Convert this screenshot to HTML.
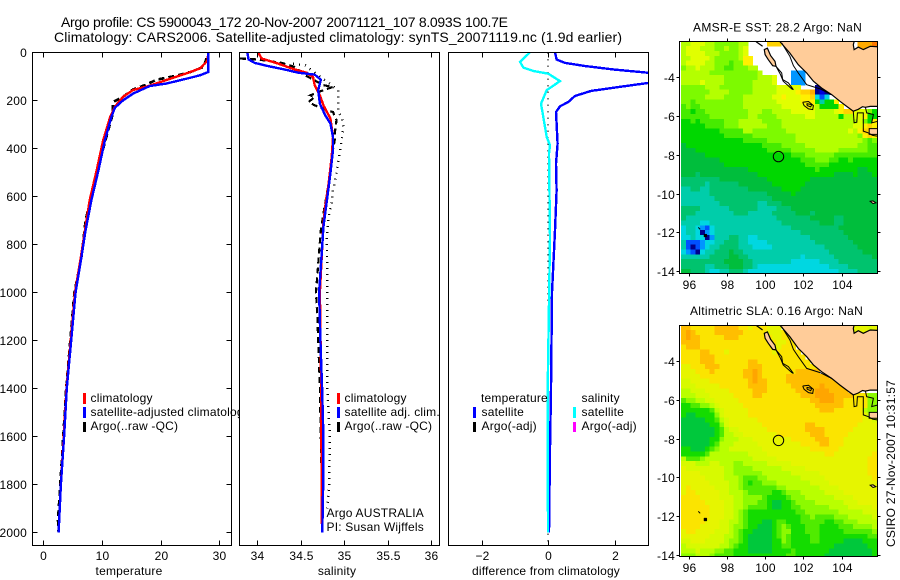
<!DOCTYPE html>
<html>
<head>
<meta charset="utf-8">
<title>Argo profile</title>
<style>
html,body{margin:0;padding:0;background:#fff;}
svg{display:block;}
text{font-family:"Liberation Sans",sans-serif;font-size:12px;fill:#000;letter-spacing:.2px;}
.t{font-size:14px;letter-spacing:0;}
</style>
</head>
<body>
<svg id="fig" xmlns="http://www.w3.org/2000/svg" width="900" height="580" viewBox="0 0 900 580">
<defs>
<clipPath id="c1"><rect x="32" y="52" width="200" height="494"/></clipPath>
<clipPath id="c2"><rect x="239" y="52" width="201" height="494"/></clipPath>
<clipPath id="c3"><rect x="448" y="52" width="201" height="494"/></clipPath>
<clipPath id="cm1"><rect x="680" y="42" width="198" height="231"/></clipPath>
<clipPath id="cm2"><rect x="680" y="326" width="198" height="230"/></clipPath>
</defs>
<rect x="0" y="0" width="900" height="580" fill="#fff"/>
<text class="t" x="61" y="27" textLength="447">Argo profile: CS 5900043_172 20-Nov-2007 20071121_107 8.093S 100.7E</text>
<text class="t" x="54" y="42" textLength="568">Climatology: CARS2006. Satellite-adjusted climatology: synTS_20071119.nc (1.9d earlier)</text>

<g id="panel1">
<rect x="32.5" y="52.5" width="199" height="493" fill="#fff"/>
<g id="p1marks" clip-path="url(#c1)"></g>
<rect x="32.5" y="52.5" width="199" height="493" fill="none" stroke="#000"/>
<g id="p1axis"></g>
<text x="129" y="575" text-anchor="middle">temperature</text>
<g>
<rect x="83" y="393" width="3" height="11" fill="#f00"/>
<rect x="83" y="407" width="3" height="11" fill="#00f"/>
<rect x="83" y="422" width="3" height="10" fill="#000"/>
<text x="90.5" y="402">climatology</text>
<text x="90.5" y="416">satellite-adjusted climatology</text>
<text x="90.5" y="430">Argo(..raw -QC)</text>
</g>
</g>

<g id="panel2">
<rect x="239.5" y="52.5" width="200" height="493" fill="#fff"/>
<g id="p2marks" clip-path="url(#c2)"></g>
<rect x="239.5" y="52.5" width="200" height="493" fill="none" stroke="#000"/>
<g id="p2axis"></g>
<text x="337" y="575" text-anchor="middle">salinity</text>
<g>
<rect x="337" y="393" width="3" height="11" fill="#f00"/>
<rect x="337" y="407" width="3" height="11" fill="#00f"/>
<rect x="337" y="422" width="3" height="10" fill="#000"/>
<text x="344.5" y="402">climatology</text>
<text x="344.5" y="416">satellite adj. clim.</text>
<text x="344.5" y="430">Argo(..raw -QC)</text>
<text x="326.5" y="517">Argo AUSTRALIA</text>
<text x="326.5" y="531">PI: Susan Wijffels</text>
</g>
</g>

<g id="panel3">
<rect x="448.5" y="52.5" width="200" height="493" fill="#fff"/>
<g id="p3marks" clip-path="url(#c3)"></g>
<rect x="448.5" y="52.5" width="200" height="493" fill="none" stroke="#000"/>
<g id="p3axis"></g>
<text x="546" y="575" text-anchor="middle" textLength="148">difference from climatology</text>
<g>
<rect x="473" y="407" width="3" height="11" fill="#00f"/>
<rect x="473" y="422" width="3" height="10" fill="#000"/>
<rect x="573" y="407" width="3" height="11" fill="#0ff"/>
<rect x="573" y="422" width="3" height="10" fill="#f0f"/>
<text x="481" y="402">temperature</text>
<text x="481.5" y="416">satellite</text>
<text x="481.5" y="430">Argo(-adj)</text>
<text x="581.5" y="402">salinity</text>
<text x="581.5" y="416">satellite</text>
<text x="581.5" y="430">Argo(-adj)</text>
</g>
</g>

<g id="map1">
<text x="777.5" y="31.5" text-anchor="middle" textLength="169">AMSR-E SST: 28.2 Argo: NaN</text>
<g id="m1cells" clip-path="url(#cm1)"></g>
<g id="m1coast" clip-path="url(#cm1)"></g>
<rect x="679.5" y="41.5" width="198" height="232" fill="none" stroke="#000"/>
<g id="m1axis"></g>
</g>

<g id="map2">
<text x="776.5" y="315" text-anchor="middle" textLength="173">Altimetric SLA: 0.16 Argo: NaN</text>
<g id="m2cells" clip-path="url(#cm2)"></g>
<g id="m2coast" clip-path="url(#cm2)"></g>
<rect x="679.5" y="325.5" width="198" height="231" fill="none" stroke="#000"/>
<g id="m2axis"></g>
</g>

<text transform="translate(895 547) rotate(-90)" textLength="167">CSIRO 27-Nov-2007 10:31:57</text>
</svg>

<script>
// Panel tick values
const depthTicks = [0,200,400,600,800,1000,1200,1400,1600,1800,2000];
const tempTicks = [0,10,20,30];
const salTicks = [34,34.5,35,35.5,36];
const salTickLabels = ['34','34.5','35','35.5','36'];
const diffTicks = [-2,0,2];
const diffTickLabels = ['\u22122','0','2'];
const lonTicks = [96,98,100,102,104];
const latTicks = [-4,-6,-8,-10,-12,-14];
const latTickLabels = ['-4','-6','-8','-10','-12','-14'];

// Temperature profiles
const tempClimDepth = [0,33,39,67,88,115,143,157,185,227,269,366,491,616,741,852,1000,1400,1600,1800,2000];
const tempClimValue = [28.1,28.0,27.8,26.7,24.4,21,17.6,15.3,13.6,12.2,11.4,10.2,9.1,7.9,7.1,6.4,5.4,3.95,3.5,3.0,2.6];
const tempSatDepth = [0,82,96,110,130,141,172,200,231,269,366,491,616,741,852,1000,1400,1600,1800,2000];
const tempSatValue = [28.1,28.1,26.7,24.4,21,18.1,15.3,13.6,12.2,11.6,10.5,9.4,8.2,7.2,6.5,5.5,4.0,3.55,3.0,2.6];
const tempArgoDepth = [25,61,82,100,114,135,155,185,207,260,366,491,616,700,852,1000,1400,1600,1800,1950,2000];
const tempArgoValue = [27.8,27.3,25.1,22.2,19.3,17.5,15.3,13.6,11.9,11.8,10.6,9.2,8.0,7.2,6.5,5.3,3.9,3.4,2.9,2.5,2.6];

// Salinity profiles
const salClimDepth = [0,26,47,68,86,103,137,179,221,276,353,436,547,644,714,1000,1400,1900,2000];
const salClimValue = [34.01,34.05,34.24,34.4,34.57,34.64,34.66,34.72,34.76,34.84,34.87,34.855,34.82,34.78,34.76,34.72,34.735,34.74,34.745];
const salSatDepth = [0,30,44,58,72,85,93,114,130,158,214,262,297,353,408,505,617,728,783,1000,1200,1400,1600,1750,2000];
const salSatValue = [33.885,33.9,33.97,34.13,34.32,34.47,34.66,34.73,34.72,34.7,34.72,34.78,34.84,34.87,34.87,34.84,34.8,34.76,34.75,34.71,34.725,34.745,34.76,34.76,34.747];
const salArgoDepth = [26,30,44,61,96,117,137,144,158,179,186,207,221,236,249,283,339,367,436,505,589,672,742,1000,1100,1300,1400,1600,1800,1900];
const salArgoValue = [33.8,34.01,34.28,34.43,34.55,34.66,34.76,34.87,34.76,34.61,34.66,34.59,34.66,34.76,34.87,34.91,34.89,34.89,34.855,34.835,34.8,34.76,34.73,34.675,34.69,34.71,34.72,34.73,34.74,34.74];
const salRawDepth = [47,54,158,249,269,311,367,408,457,505,575,630,686,770,1000,1400,1600,1800,1900];
const salRawValue = [34.41,34.55,34.93,34.93,34.97,34.99,34.97,34.95,34.93,34.91,34.87,34.855,34.82,34.8,34.805,34.805,34.835,34.825,34.805];

// Differences from climatology
const diffTempDepth = [0,30,44,57,72,85,105,128,147,161,182,207,225,249,297,381,464,575,742,1000,1400,1650,2000];
const diffTempValue = [0.21,0.26,0.51,1.11,2.0,3.0,5.5,3.0,2.0,1.3,0.81,0.61,0.36,0.24,0.26,0.29,0.24,0.26,0.21,0.12,0.09,0.06,0.03];
const diffSalDepth = [0,40,64,78,89,120,158,214,269,353,387,422,770,1400,2000];
const diffSalValue = [-0.54,-0.84,-0.74,-0.44,0.01,0.36,-0.04,-0.21,-0.14,-0.04,0.06,0.03,0.06,-0.01,0];
const diffZeroDepth = [0,2040];
const diffZeroValue = [0,0];

// Colour levels for the heatmaps (level index -> colour); -1 = missing
const sstColours = ['#00008c','#0000dc','#0050ff','#0096ff','#00d7e1','#00cdaa','#00c36e','#00be3c','#00d700','#46eb00','#7dfa00','#b4ff00','#e1ff00','#fff000','#ffd200','#ffaa00','#ff7800','#e63c00','#aa2800'];
const slaColours = ['#00008c','#0000dc','#0050ff','#0096ff','#00d7e1','#00cdaa','#00c36e','#00c83c','#14dc00','#50eb00','#8cfa00','#b9ff00','#d7fa00','#e6f500','#fbe400','#ffbe00','#ffa500','#e63c00','#aa2800'];

// AMSR-E SST, colour level per 0.25 degree cell, north to south
const sstRows = [
[11,11,12,12,12,11,11,10,10,10,10,10,11,11,-1,-1,-1,-1,14,14,14,-1,-1,-1,-1,-1,-1,-1,-1,-1,-1,-1,-1,-1,-1,-1,-1,15,15,15,16,18],
[11,12,12,12,11,11,11,10,10,11,10,10,11,12,-1,-1,-1,-1,-1,-1,-1,-1,-1,-1,-1,-1,-1,-1,-1,-1,-1,-1,-1,-1,-1,-1,-1,15,15,15,17,18],
[11,12,12,12,12,11,11,11,10,10,10,10,11,12,-1,-1,-1,-1,-1,-1,-1,-1,-1,-1,-1,-1,-1,-1,-1,-1,-1,-1,-1,-1,-1,-1,-1,-1,-1,15,16,18],
[11,11,12,12,12,12,11,10,10,10,10,10,11,13,13],
[11,12,12,12,12,11,11,10,10,10,9,10,10,13,13],
[10,11,11,12,11,11,11,10,10,9,9,10,10,10,11,11],
[11,11,11,11,11,11,10,10,10,10,10,10,10,10,10,10,11,-1,-1,-1,-1,-1,-1,3,3,3],
[11,11,11,11,11,11,11,11,11,10,10,10,10,10,10,10,11,11,11,12,-1,-1,-1,3,3,3],
[11,11,11,11,12,11,11,11,11,10,10,10,10,10,10,11,11,11,11,12,-1,-1,-1,3,3,3],
[10,10,10,10,10,11,11,11,10,10,10,10,10,10,10,11,11,11,11,11,12,12,12,12,12,-1,-1,-1,0,0,0],
[10,10,10,10,10,10,11,11,11,11,10,10,10,10,10,11,11,11,11,11,12,12,12,12,13,14,14,15,0,1,0,0],
[10,10,10,10,10,11,11,11,11,10,10,10,10,11,11,11,11,11,11,12,12,13,12,12,12,13,13,14,4,2,4],
[10,10,9,10,10,10,10,10,10,10,10,10,10,11,11,11,11,11,11,11,12,12,12,12,12,13,13,13,8,5,8,8,13],
[9,10,9,9,10,10,10,10,10,10,10,10,10,11,11,11,11,11,11,11,11,12,12,12,12,12,13,12,11,8,8,8,8,13],
[9,9,8,9,9,10,10,10,10,10,10,10,10,10,11,11,11,10,10,11,11,11,11,12,12,12,12,12,11,11,11,11,12,13,14,14,12,12,12,10,8,13],
[9,9,9,9,9,9,10,10,10,10,10,10,10,10,11,11,10,10,10,10,11,11,11,11,11,11,12,12,11,11,11,11,11,8,11,11,12,12,13,8,8,13],
[8,8,9,8,9,9,9,9,9,10,10,10,11,11,11,11,11,10,10,10,10,11,11,11,11,11,11,11,11,11,11,11,11,11,11,11,11,12,10,8,13,13],
[8,8,8,8,8,9,9,9,9,10,10,10,11,11,11,11,11,11,10,10,10,11,11,11,11,11,11,11,11,11,11,11,11,11,11,11,12,12,13,14,13,13],
[8,8,8,8,8,8,8,8,9,9,9,9,9,11,11,10,10,10,10,10,10,10,11,11,11,11,11,11,11,11,11,11,11,11,11,12,11,13,14,14,14,13],
[8,8,8,8,8,8,8,8,8,9,9,9,9,9,9,10,10,10,10,10,10,10,10,10,11,11,11,11,11,11,11,11,11,11,11,11,11,10,13,14,13,13],
[8,8,8,8,8,8,8,8,8,8,8,8,8,9,9,9,9,9,10,10,10,10,10,10,11,11,11,11,11,11,11,11,11,11,11,11,11,11,10,9,10,10],
[7,8,8,8,8,8,8,8,8,8,8,8,8,8,8,8,8,9,9,9,9,10,10,10,10,10,11,11,11,11,11,11,11,11,11,11,11,10,10,9,9,10],
[7,7,7,8,8,8,8,8,8,8,8,8,8,8,8,8,8,8,9,9,9,9,9,10,10,10,10,10,11,11,11,11,11,10,10,10,10,10,10,9,9,9],
[7,7,7,7,7,8,8,8,8,8,8,8,8,8,8,8,8,8,8,8,8,8,8,9,9,9,10,10,10,10,10,10,9,9,9,9,9,9,9,9,9,9],
[7,7,7,7,7,7,7,7,8,8,8,8,8,8,8,8,8,8,8,8,8,8,8,8,8,9,9,9,10,10,10,9,9,8,8,9,8,8,8,8,8,8],
[7,7,7,7,7,7,7,7,7,8,8,8,8,8,8,8,8,8,8,8,8,8,8,8,8,8,9,9,9,9,9,8,8,8,8,8,8,8,8,8,8,8],
[7,7,7,7,7,7,7,7,7,7,7,7,7,7,8,8,8,8,8,8,8,8,8,8,8,8,8,8,9,8,8,8,8,8,8,8,8,7,7,8,8,8],
[7,7,7,6,7,7,7,7,7,7,7,7,7,7,7,7,8,8,8,8,8,8,8,8,8,8,8,8,8,8,8,8,7,7,7,7,8,7,7,7,8,8],
[6,6,6,6,6,6,6,6,7,7,7,7,7,7,7,7,7,7,8,8,8,8,8,8,8,8,8,7,7,7,7,7,7,7,7,7,7,7,7,7,7,7],
[6,6,6,6,6,5,6,6,6,6,6,6,7,7,7,7,7,7,7,8,8,8,8,8,8,8,7,7,7,7,7,7,7,7,7,7,7,7,7,7,7,7],
[5,5,6,6,5,5,6,6,6,6,6,6,6,6,7,7,7,7,7,7,7,8,8,8,8,7,7,7,7,7,7,7,7,7,7,7,7,7,7,7,7,7],
[5,5,5,5,5,5,6,6,6,6,6,6,6,6,6,6,6,6,7,7,7,7,7,8,7,7,7,7,7,7,7,7,7,7,7,7,7,7,7,7,7,7],
[5,5,5,5,5,5,5,6,6,6,6,6,6,6,6,6,6,6,6,7,7,7,7,7,7,7,7,7,7,7,7,7,7,7,7,7,7,7,7,7,7,7],
[5,5,5,5,5,5,5,5,6,6,6,6,6,6,6,6,5,5,6,6,6,7,7,7,7,7,7,7,7,7,7,7,7,7,7,7,7,7,7,7,7,7],
[6,6,6,6,5,5,5,5,5,5,6,6,6,6,6,6,5,5,5,5,6,6,6,7,7,7,7,7,7,7,7,7,7,7,7,7,7,7,7,7,7,7],
[6,6,6,5,5,5,5,5,5,5,5,6,6,6,5,5,5,5,5,6,6,6,6,6,7,7,7,6,7,7,7,7,7,7,7,7,7,7,7,7,7,7],
[6,5,5,5,5,5,5,5,5,5,5,5,5,5,5,5,5,5,5,5,6,6,6,6,6,6,6,7,7,7,7,7,6,6,7,7,7,7,7,7,7,7],
[5,5,5,5,4,4,5,5,5,5,5,5,5,5,5,5,5,5,5,5,5,6,6,6,6,6,6,6,6,7,7,7,6,6,7,7,7,7,7,7,7,7],
[4,5,5,4,3,2,4,5,5,5,5,5,5,5,5,5,5,5,5,5,5,5,5,6,6,6,6,6,6,6,6,6,6,7,7,7,7,7,7,7,7,7],
[4,5,5,4,0,3,4,5,5,5,5,5,5,5,5,5,5,5,5,5,5,5,5,5,5,6,6,6,6,6,6,6,6,6,7,7,7,7,7,7,7,7],
[4,4,5,4,4,0,3,5,5,5,6,6,5,5,4,4,5,5,5,5,5,5,5,5,5,5,5,6,6,6,6,6,6,6,6,7,7,7,7,7,7,7],
[5,2,2,2,3,4,4,5,5,6,6,6,5,5,4,4,4,4,5,5,5,5,5,5,5,5,5,5,6,6,6,6,6,6,6,6,7,7,7,7,7,7],
[5,2,0,2,3,4,5,5,6,6,6,6,5,5,5,4,4,4,4,5,5,5,5,5,5,5,5,5,5,5,6,6,6,6,6,6,6,7,7,7,7,7],
[4,3,2,0,4,5,5,6,6,6,7,6,6,5,5,5,5,5,5,5,5,5,5,5,5,5,5,5,5,5,5,6,6,6,6,6,6,6,7,7,7,7],
[5,5,5,5,5,5,6,6,6,6,7,7,6,6,5,5,5,5,5,5,5,5,5,5,5,4,5,5,5,5,5,5,6,6,6,6,6,6,6,6,7,7],
[6,6,6,6,6,6,6,6,6,7,7,7,7,6,6,5,5,5,5,5,5,5,5,4,4,4,4,4,4,5,5,5,5,6,6,6,6,6,6,6,6,7],
[6,6,6,6,6,5,5,6,6,6,7,7,7,6,6,5,4,4,4,4,4,4,4,4,4,4,4,4,4,4,4,5,5,5,5,6,6,6,6,6,6,7],
[7,7,6,6,6,5,4,4,5,5,6,6,6,5,4,4,4,4,4,4,4,4,4,4,4,4,4,4,4,4,4,4,4,5,5,5,5,6,6,6,6,6]
];

// Altimetric SLA, colour level per 0.25 degree cell, north to south
const slaRows = [
[15,15,14,14,14,14,14,15,15,15,15,15,14,14,13,14,14,14,13,13,13,-1,-1,-1,-1,-1,-1,-1,-1,-1,-1,-1,-1,-1,-1,-1,13,13,13,12,13,13],
[15,16,15,14,14,14,14,15,15,15,15,15,15,14,14,14,14,14,13,13,13,14,-1,-1,-1,-1,-1,-1,-1,-1,-1,-1,-1,-1,-1,-1,13,13,13,13,13,13],
[15,16,15,15,14,14,14,14,14,15,15,15,14,14,14,14,14,14,14,13,13,14,14],
[15,15,15,15,14,14,14,14,14,14,14,14,14,14,14,14,14,14,14,14,13,13,14,14],
[14,15,15,15,14,14,14,14,14,14,14,14,14,14,14,14,14,14,14,13,13,14,14,14],
[14,14,14,14,15,15,14,14,14,13,14,14,14,14,14,14,14,14,14,13,14,14,14,14,14],
[14,14,14,14,15,15,15,14,14,14,14,14,14,14,14,14,14,14,14,14,14,14,14,14,14,14],
[14,14,14,14,15,15,15,14,14,14,14,14,14,14,15,15,14,14,14,14,14,14,14,14,14,14,14],
[13,13,14,14,14,15,15,15,14,14,14,14,14,14,15,15,15,14,14,14,14,14,14,14,14,14,14,14,14],
[13,13,13,14,14,14,15,14,14,14,14,14,14,15,15,16,15,14,14,14,14,14,14,14,15,15,15,15,15],
[13,13,13,13,14,14,14,14,14,14,14,14,14,15,15,16,15,14,14,14,14,14,15,15,15,15,15,15,15,15,15],
[12,12,13,13,13,13,14,14,14,14,14,14,14,14,15,16,15,15,14,14,14,14,15,15,15,15,15,15,15,15,15,15,15],
[12,12,12,13,13,13,13,13,14,14,14,14,14,14,15,15,15,15,14,14,14,14,14,15,15,15,15,15,15,16,15,15,15,15],
[11,11,12,12,12,13,13,13,13,13,14,14,14,14,14,15,15,15,14,14,14,14,14,14,15,15,15,15,16,16,16,15,15,15,15],
[11,11,11,12,12,12,13,13,13,13,13,14,14,14,14,15,15,14,14,14,14,14,14,14,14,15,15,15,16,16,16,16,15,15,15,15,14,14,14,10,10,13],
[9,10,10,11,11,12,12,13,13,13,13,13,14,14,14,14,14,14,14,14,14,14,14,14,14,14,14,15,15,16,16,16,15,15,14,14,14,14,14,10,10,10],
[8,8,9,9,10,10,11,12,13,13,13,13,13,14,14,14,14,14,14,14,14,14,14,14,14,14,14,14,15,15,15,15,15,15,14,14,14,14,14,10,10,10],
[8,8,8,8,8,8,9,11,12,13,13,13,13,13,14,14,14,14,14,14,14,14,14,14,14,14,14,14,14,15,15,15,14,14,14,14,14,14,11,10,10,10],
[8,7,7,8,8,8,8,10,12,13,13,13,13,13,14,14,14,14,14,14,14,14,14,14,14,14,14,14,14,14,14,14,14,14,14,14,14,14,13,11,10,11],
[7,7,7,7,7,8,8,9,11,12,13,13,13,13,13,13,14,14,14,14,14,14,14,14,14,14,14,14,14,14,14,14,14,14,14,14,14,14,13,13,12,11],
[7,7,7,7,7,7,8,8,10,12,13,13,13,13,13,13,13,14,14,14,14,14,14,14,14,14,15,15,14,14,14,14,14,14,14,14,14,13,13,13,13,13],
[7,7,7,7,7,7,7,8,9,11,12,12,13,13,13,13,13,13,14,14,14,14,14,14,14,14,15,15,15,15,14,14,14,14,14,14,13,13,13,13,13,13],
[7,7,7,7,7,7,7,8,9,11,11,12,12,13,13,13,13,13,13,13,14,14,14,14,14,14,14,15,15,15,14,14,14,14,14,13,13,13,13,13,13,13],
[7,7,7,7,7,7,8,8,10,11,11,11,12,12,12,13,13,13,13,13,13,13,13,14,14,14,14,14,15,15,15,14,14,14,13,13,13,13,13,13,13,13],
[7,7,7,7,7,7,8,9,11,11,11,12,12,12,12,12,13,13,13,13,13,13,13,13,13,14,14,14,14,15,15,14,14,14,13,13,13,13,13,13,13,14],
[8,8,7,7,7,8,9,10,11,11,12,12,12,12,12,12,12,13,13,13,13,13,13,13,13,13,13,14,14,14,14,14,14,13,13,13,13,13,13,13,13,14],
[8,8,8,8,8,9,11,11,11,11,11,11,11,11,12,12,12,12,13,13,13,13,13,13,13,13,13,13,13,13,14,14,13,13,13,13,13,13,13,13,14,14],
[11,9,9,9,10,11,11,11,11,11,11,11,11,11,11,12,12,12,12,12,13,13,13,13,13,13,13,13,13,13,13,13,13,13,13,13,13,13,13,14,14,14],
[12,12,12,11,11,11,12,12,11,11,11,10,10,11,11,11,11,11,12,12,12,12,12,13,13,13,13,13,13,13,13,13,13,13,13,13,13,13,13,14,14,14],
[13,12,12,12,12,12,12,12,12,11,11,10,10,10,10,11,11,11,11,11,11,12,12,12,12,12,13,13,13,13,13,13,13,13,13,13,13,13,13,14,14,14],
[13,13,13,13,12,12,12,12,12,11,11,10,10,10,10,10,10,11,11,11,11,11,11,12,12,12,12,12,12,13,13,13,13,13,13,13,13,13,13,14,14,14],
[13,13,13,13,13,12,12,12,12,11,11,11,10,9,9,9,10,10,11,11,11,11,11,11,11,12,12,12,12,12,13,13,13,13,13,13,13,13,13,13,14,14],
[13,13,13,13,13,13,12,12,12,12,11,11,10,9,8,9,9,10,10,10,11,11,11,11,11,11,11,12,12,12,12,13,13,13,13,13,13,13,13,13,13,14],
[13,14,13,13,13,13,13,12,12,12,11,11,10,9,9,9,9,9,9,9,10,10,11,11,11,11,11,11,11,12,12,12,12,13,13,13,13,13,13,13,13,13],
[13,14,14,13,13,13,13,13,12,12,11,11,11,10,9,9,9,9,9,8,8,9,10,10,10,11,11,11,11,11,12,12,12,12,13,13,13,13,13,13,13,13],
[14,14,14,14,13,13,13,13,12,12,12,11,11,10,10,10,10,9,8,8,8,8,9,10,10,10,11,11,11,11,11,11,12,12,12,12,13,13,13,13,13,13],
[14,14,14,14,14,13,13,13,13,12,12,11,11,10,10,10,9,9,8,7,7,8,8,9,10,10,10,10,11,11,11,11,11,11,12,12,12,13,13,13,13,13],
[14,14,14,14,14,14,13,13,13,12,12,11,11,10,9,9,9,9,8,7,7,8,8,9,9,10,10,10,10,10,10,11,11,11,11,12,12,12,12,12,13,13],
[14,14,14,14,14,14,13,13,13,12,12,11,10,9,8,8,8,8,8,8,8,8,8,8,9,9,10,10,10,10,10,10,10,11,11,11,11,11,12,12,12,12],
[14,14,14,14,14,14,13,13,13,12,12,11,10,9,8,8,8,8,8,8,8,8,8,8,8,9,9,10,9,9,9,9,10,10,10,11,11,11,11,11,12,12],
[14,14,14,14,14,13,13,13,12,12,11,11,10,9,8,8,8,7,7,8,9,9,8,8,8,9,9,9,9,9,8,8,9,9,10,10,10,11,11,11,11,11],
[14,14,14,14,13,13,13,13,12,12,11,10,10,9,8,8,7,7,7,8,9,10,9,8,8,8,9,9,9,8,8,8,8,9,9,9,10,10,10,10,11,11],
[13,14,14,13,13,13,13,12,12,12,11,10,9,8,8,7,7,7,7,8,9,10,10,8,8,8,9,9,9,8,8,8,8,8,9,9,9,9,9,9,10,10],
[13,13,13,13,13,13,12,12,12,11,11,10,9,8,7,7,7,7,7,8,9,10,9,8,8,8,8,9,9,8,8,8,8,8,8,8,8,8,8,9,9,9],
[12,12,13,13,13,12,12,12,12,11,10,10,9,8,7,7,7,7,7,8,8,10,9,8,8,8,8,9,9,8,8,8,8,8,7,7,7,7,8,8,8,8],
[11,12,12,12,12,12,12,12,11,11,10,9,8,8,7,7,7,7,7,8,8,9,9,8,8,8,8,8,8,8,8,8,7,7,7,7,7,7,7,8,8,8],
[11,11,11,12,11,11,11,10,10,9,9,8,8,8,7,7,7,7,7,8,8,8,8,9,8,8,8,8,8,8,8,7,7,7,7,7,7,7,7,7,8,8],
[10,10,10,11,11,11,10,9,9,9,9,8,8,8,8,8,8,8,8,8,8,8,9,9,8,8,8,8,8,8,7,7,7,7,7,7,7,7,7,7,8,8]
];

// Geography (lon, lat)
const landLon = [100.7,100.78,101.3,101.74,102.18,102.53,102.96,103.49,103.92,104.27,104.62,104.88,105.1,105.25,105.5,106.2,106.2,105.5,105.14,104.88,104.66,104.62,104.7];
const landLat = [-2.0,-2.16,-2.75,-3.35,-3.78,-4.2,-4.55,-4.9,-5.24,-5.5,-5.75,-5.65,-5.52,-5.55,-5.5,-5.5,-2.44,-2.4,-2.57,-2.44,-2.57,-2.32,-2.0];
const siberutLon = [99.96,100.12,100.29,100.52,100.57,100.4,100.17,100.0];
const siberutLat = [-2.57,-2.5,-2.88,-3.18,-3.43,-3.4,-3.09,-2.83];
const trenchLon = [100.87,101.3,101.48,101.74,102.18,102.88,103.49];
const trenchLat = [-2.23,-2.92,-3.4,-3.78,-4.38,-4.6,-4.9];
const ridgeLon = [99.53,99.87];
const ridgeLat = [-2.16,-2.4];
const pagaiLon = [100.57,100.87,100.92,101.22,101.48,101.4,100.95,100.8,100.57];
const pagaiLat = [-3.43,-3.78,-4.12,-4.29,-4.64,-4.6,-4.2,-3.85,-3.43];
const engganoLon = [101.97,102.27,102.53,102.49,102.27,102.04,101.97];
const engganoLat = [-5.29,-5.25,-5.46,-5.67,-5.63,-5.46,-5.29];
const engganoInnerLon = [102.18,102.44,102.39,102.21,102.18];
const engganoInnerLat = [-5.36,-5.41,-5.53,-5.46,-5.36];
const straitLon = [104.62,104.66,104.8,104.83,105.14,105.14,105.41,105.63,105.9];
const straitLat = [-5.75,-6.35,-6.32,-5.84,-5.84,-6.78,-6.87,-7.0,-7.04];
const straitEastLon = [105.25,105.32,105.67,105.58,105.9];
const straitEastLat = [-5.55,-5.84,-5.92,-6.35,-6.27];
const javaLon = [105.45,106.2,106.2,105.45];
const javaLat = [-6.65,-6.65,-6.95,-6.95];
const xmasLon = [105.5,105.65,105.8,105.65];
const xmasLat = [-10.4,-10.38,-10.48,-10.52];
const cocosLon = [96.5,96.6];
const cocosLat = [-11.75,-11.85];
const keelingLon = [96.8,96.95,96.95,96.8];
const keelingLat = [-12.1,-12.1,-12.24,-12.24];

// Float position
const argoLon = [100.7];
const argoLat = [-8.093];

const SVGNS = 'http://www.w3.org/2000/svg';
function mk(tag, parent, attrs) {
  const el = document.createElementNS(SVGNS, tag);
  for (const k in attrs) el.setAttribute(k, attrs[k]);
  parent.appendChild(el);
  return el;
}
const yD = d => 52.3 + d * 0.24;
const xT = v => 43.3 + v * 5.87;
const xS = v => 257.3 + (v - 34) * 87;
const xDf = v => 548 + v * 33.25;
const lonX = lon => 688.7 + (lon - 96) * 19.1;
const lat1Y = lat => 77.3 + (-4 - lat) * 19.37;
const lat2Y = lat => 361 + (-4 - lat) * 19.4;
const gridLon0 = 95.6;
const gridLat1 = -2.14;
const gridLat2 = -2.16;
const gridStep = 0.25;

function profile(groupId, xf, depths, values, stroke, width, dash, name) {
  const pts = depths.map((d, i) => xf(values[i]).toFixed(1) + ',' + yD(d).toFixed(1)).join(' ');
  const el = mk('polyline', document.getElementById(groupId), {points: pts, fill: 'none', stroke: stroke, 'stroke-width': width, 'shape-rendering': 'crispEdges'});
  if (dash) el.setAttribute('stroke-dasharray', dash);
  
  
}

profile('p1marks', xT, tempArgoDepth, tempArgoValue, '#000', 2.6, '6 4', 'temperature-argo-line');
profile('p1marks', xT, tempClimDepth, tempClimValue, '#f00', 2.4, '', 'temperature-climatology-line');
profile('p1marks', xT, tempSatDepth, tempSatValue, '#00f', 2.4, '', 'temperature-satellite-line');
profile('p2marks', xS, salRawDepth, salRawValue, '#000', 2.4, '1 5', 'salinity-argo-raw-line');
profile('p2marks', xS, salArgoDepth, salArgoValue, '#000', 2.2, '6 4', 'salinity-argo-line');
profile('p2marks', xS, salClimDepth, salClimValue, '#f00', 2.4, '', 'salinity-climatology-line');
profile('p2marks', xS, salSatDepth, salSatValue, '#00f', 2.4, '', 'salinity-satellite-line');
profile('p3marks', xDf, diffZeroDepth, diffZeroValue, '#000', 1.4, '1.5 5', 'zero-reference-line');
profile('p3marks', xDf, diffTempDepth, diffTempValue, '#00f', 2.4, '', 'difference-temperature-line');
profile('p3marks', xDf, diffSalDepth, diffSalValue, '#0ff', 2.4, '', 'difference-salinity-line');

function tick(g, x1, y1, x2, y2) {
  const el = mk('line', g, {x1: x1, y1: y1, x2: x2, y2: y2, stroke: '#000', 'stroke-width': 1, 'shape-rendering': 'crispEdges'});
  
  
}
function label(g, x, y, anchor, str) {
  const el = mk('text', g, {x: x, y: y, 'text-anchor': anchor});
  el.textContent = str;
  
  
}
function xAxisPanel(id, ticks, labels, xf) {
  const g = document.getElementById(id);
  ticks.forEach((v, i) => {
    const x = Math.round(xf(v)) + 0.5;
    tick(g, x, 52.5, x, 57.5);
    tick(g, x, 545.5, x, 540.5);
    label(g, x, 560, 'middle', labels[i]);
  });
}
xAxisPanel('p1axis', tempTicks, tempTicks.map(String), xT);
xAxisPanel('p2axis', salTicks, salTickLabels, xS);
xAxisPanel('p3axis', diffTicks, diffTickLabels, xDf);
depthTicks.forEach(d => {
  const g = document.getElementById('p1axis');
  const y = Math.round(yD(d)) + 0.5;
  tick(g, 32.5, y, 37.5, y);
  tick(g, 231.5, y, 226.5, y);
  label(g, 27, y + 4.5, 'end', String(d));
});

function heatmap(id, rows, colours, latTop, latY, name) {
  const g = document.getElementById(id);
  rows.forEach((row, r) => {
    row.forEach((level, k) => {
      if (level < 0) return;
      const x0 = lonX(gridLon0 + k * gridStep), x1 = lonX(gridLon0 + (k + 1) * gridStep);
      const y0 = latY(latTop - r * gridStep), y1 = latY(latTop - (r + 1) * gridStep);
      const el = mk('rect', g, {x: x0.toFixed(2), y: y0.toFixed(2), width: (x1 - x0 + 0.4).toFixed(2), height: (y1 - y0 + 0.4).toFixed(2), fill: colours[level], 'shape-rendering': 'crispEdges'});
      
      
    });
  });
}
heatmap('m1cells', sstRows, sstColours, gridLat1, lat1Y, 'sst-cell');
heatmap('m2cells', slaRows, slaColours, gridLat2, lat2Y, 'sla-cell');

function shape(g, lons, lats, latY, fill, width, name) {
  const pts = lons.map((lon, i) => lonX(lon).toFixed(1) + ',' + latY(lats[i]).toFixed(1)).join(' ');
  const el = mk(fill === 'none' ? 'polyline' : 'polygon', g, {points: pts, fill: fill, stroke: '#000', 'stroke-width': width});
  
  
}
function coast(id, latY) {
  const g = document.getElementById(id);
  shape(g, landLon, landLat, latY, '#ffcc99', 1.2, 'sumatra-land');
  shape(g, javaLon, javaLat, latY, '#ffcc99', 1, 'java-land');
  shape(g, siberutLon, siberutLat, latY, '#ffcc99', 1.2, 'siberut-island');
  shape(g, trenchLon, trenchLat, latY, 'none', 1, 'shelf-contour');
  shape(g, ridgeLon, ridgeLat, latY, 'none', 1.2, 'north-island-contour');
  shape(g, pagaiLon, pagaiLat, latY, 'none', 1, 'pagai-island-contour');
  shape(g, engganoLon, engganoLat, latY, 'none', 1, 'enggano-contour');
  shape(g, engganoInnerLon, engganoInnerLat, latY, 'none', 1, 'enggano-inner-contour');
  shape(g, straitLon, straitLat, latY, 'none', 1, 'sunda-strait-west-coast');
  shape(g, straitEastLon, straitEastLat, latY, 'none', 1, 'sunda-strait-east-coast');
  shape(g, xmasLon, xmasLat, latY, '#ffcc99', 1, 'christmas-island');
  shape(g, cocosLon, cocosLat, latY, 'none', 1, 'north-keeling-island');
  shape(g, keelingLon, keelingLat, latY, '#000', 0.5, 'cocos-island');
  argoLon.forEach((lon, i) => {
    const el = mk('circle', g, {cx: lonX(lon).toFixed(1), cy: latY(argoLat[i]).toFixed(1), r: 5.2, fill: 'none', stroke: '#000', 'stroke-width': 1});
    
    
  });
}
coast('m1coast', lat1Y);
coast('m2coast', lat2Y);

function mapAxis(id, latY, top, bottom, labelY) {
  const g = document.getElementById(id);
  lonTicks.forEach(lon => {
    const x = Math.round(lonX(lon)) + 0.5;
    tick(g, x, top, x, top - 3);
    tick(g, x, bottom, x, bottom + 3);
    label(g, x, labelY, 'middle', String(lon));
  });
  latTicks.forEach((lat, i) => {
    const y = Math.round(latY(lat)) + 0.5;
    tick(g, 679.5, y, 676.5, y);
    tick(g, 877.5, y, 880.5, y);
    label(g, 675, y + 4.5, 'end', latTickLabels[i]);
  });
}
mapAxis('m1axis', lat1Y, 41.5, 273.5, 289);
mapAxis('m2axis', lat2Y, 325.5, 556.5, 572);
</script>
</body>
</html>
